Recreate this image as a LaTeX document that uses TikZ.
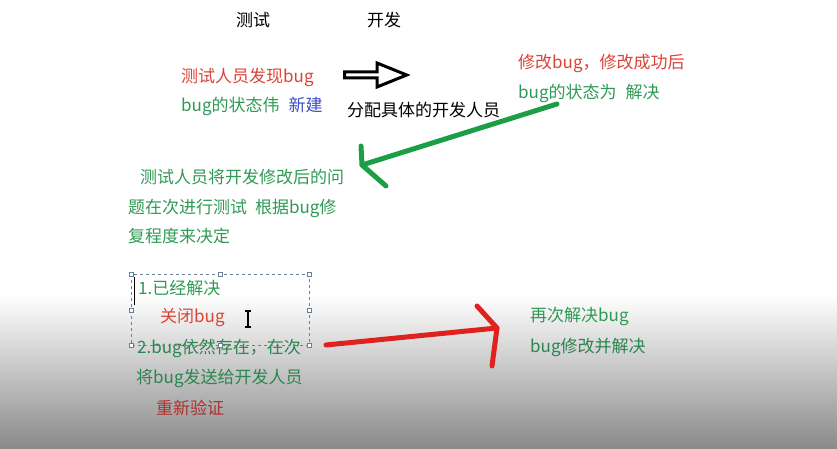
\documentclass[tikz,border=0pt]{standalone}
\usepackage{fontspec}
\setmainfont{Noto Sans CJK SC}
\usetikzlibrary{positioning,shapes.arrows}
\definecolor{txtred}{HTML}{DC4338}
\definecolor{txtgreen}{HTML}{2F9A55}
\definecolor{txtgreendk}{HTML}{2A8550}
\definecolor{txtblue}{HTML}{3B4CC8}
\definecolor{txtdkred}{HTML}{B0302C}
\definecolor{penred}{HTML}{E0221E}
\definecolor{pengreen}{HTML}{1C9E46}
\definecolor{selblue}{HTML}{6A7F98}

\begin{document}
\begin{tikzpicture}[x=1pt, y=-1pt, auto,
    word/.style ={anchor=west, inner sep=0pt, font=\fontsize{17}{29.5}\selectfont},
    head/.style ={anchor=center, inner sep=0pt, font=\fontsize{17}{20}\selectfont},
    redtext/.style ={word, text=txtred},
    greentext/.style ={word, text=txtgreen},
    lowgreen/.style ={word, text=txtgreendk},
    pen/.style ={line width=5pt, line cap=round, line join=round},
    handle/.style ={draw=selblue, fill=white, line width=0.6pt, minimum size=4pt, inner sep=0pt}]
   \useasboundingbox (0,0) rectangle (837,449);
   \shade[top color=white, bottom color=black!46] (0,295) rectangle (837,449);

   \node[head] (tester) at (253,20) {测试};
   \node[head] (developer) at (384,20) {开发};

   \node[redtext] (foundbug) at (181,77) {测试人员发现bug};
   \node[greentext] (newstate) at (181,106) {bug的状态伟\hspace{9pt}\textcolor{txtblue}{新建}};
   \node[single arrow, draw, line width=3pt, minimum height=62pt, minimum width=24pt,
         single arrow head extend=4.5pt, single arrow tip angle=44, inner sep=0pt] (assignarrow) at (372,75) {};
   \node[word] (assigndev) at (347,110) {分配具体的开发人员};

   \node[redtext] (fixbug) at (518,63) {修改bug，修改成功后};
   \node[greentext] (fixstate) at (518,93) {bug的状态为\hspace{9pt}解决};

   \node[greentext, align=left] (retest) at (128,207) {\hspace{12pt}测试人员将开发修改后的问\\题在次进行测试\hspace{4pt} 根据bug修\\复程度来决定};

   \node[greentext] (resolved) at (138,288) {1.已经解决};
   \node[redtext] (closebug) at (160,318) {关闭bug};
   \node[lowgreen] (stillbug) at (137,348) {2.bug依然存在，在次};
   \node[lowgreen] (resend) at (136,378) {将bug发送给开发人员};
   \node[word, text=txtdkred] (reverify) at (156,408) {重新验证};

   \node[greentext] (redo) at (530,316) {再次解决bug};
   \node[lowgreen] (redofix) at (530,347) {bug修改并解决};

   % selection frame round the first lines
   \draw[selblue, dashed, line width=0.6pt] (131,274) rectangle (309,345);
   \foreach \hx/\hy in {131/274, 220/274, 309/274, 131/310, 309/310, 131/345, 220/345, 309/345}
      \node[handle] at (\hx,\hy) {};
   \draw[line width=0.8pt] (134,277) -- (134,305);
   \draw[line width=1.2pt] (248,311) -- (248,327) (245,311) -- (251,311) (245,327) -- (251,327);

   % hand drawn arrows
   \coordinate (gstart) at (557,104);
   \coordinate (gtip) at (362,165);
   \draw[pen, pengreen] (gstart) -- (gtip);
   \draw[pen, pengreen] (361,146) -- (gtip) -- (386,186);

   \coordinate (rstart) at (326,345);
   \coordinate (rtip) at (497,328);
   \draw[pen, penred] (rstart) -- (rtip);
   \draw[pen, penred] (477,306) -- (rtip) -- (492,366);
 \end{tikzpicture}
\end{document}
